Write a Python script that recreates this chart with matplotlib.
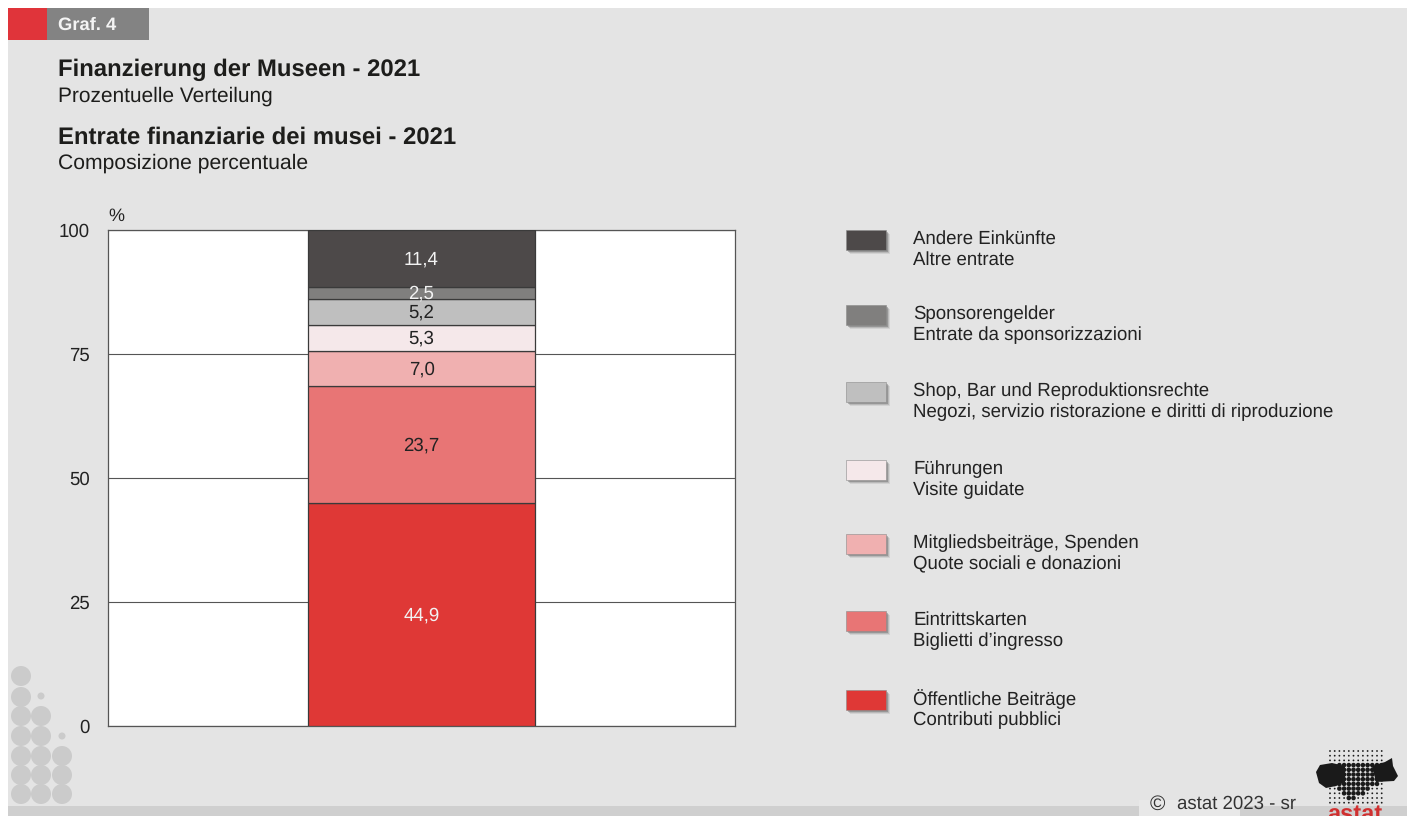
import matplotlib
matplotlib.use("Agg")
from matplotlib import pyplot as plt
from matplotlib.patches import Rectangle, Circle, Polygon

plt.rcParams['font.family'] = ['Liberation Sans', 'DejaVu Sans']
plt.rcParams['text.hinting'] = 'no_hinting'

segments_de = ["Öffentliche Beiträge", "Eintrittskarten", "Mitgliedsbeiträge, Spenden", "Führungen",
               "Shop, Bar und Reproduktionsrechte", "Sponsorengelder", "Andere Einkünfte"]
segments_it = ["Contributi pubblici", "Biglietti d’ingresso", "Quote sociali e donazioni", "Visite guidate",
               "Negozi, servizio ristorazione e diritti di riproduzione", "Entrate da sponsorizzazioni", "Altre entrate"]
values = [44.9, 23.7, 7.0, 5.3, 5.2, 2.5, 11.4]
value_labels = ["44,9", "23,7", "7,0", "5,3", "5,2", "2,5", "11,4"]
colors = ["#df3836", "#e87575", "#f0b0b0", "#f5e8ea", "#bfbfbf", "#807f7e", "#4d4949"]
label_colors = ["#f2f2f2", "#222222", "#222222", "#222222", "#222222", "#f2f2f2", "#f2f2f2"]
y_ticks = [0, 25, 50, 75, 100]

W, H = 1410, 816
fig = plt.figure(figsize=(W / 100, H / 100), dpi=100, facecolor="white")

# page decoration in pixel coordinates
bg = fig.add_axes([0, 0, 1, 1])
bg.set_xlim(0, W)
bg.set_ylim(H, 0)
bg.axis("off")
bg.add_patch(Rectangle((8, 8), 1399, 808, color="#e4e4e4", lw=0))
bg.add_patch(Rectangle((8, 806), 1399, 10, color="#cfcfcf", lw=0))
bg.add_patch(Rectangle((1139, 800), 101, 16, color="#e8e8e8", lw=0))
bg.add_patch(Rectangle((8, 8), 39, 32, color="#e0343a", lw=0))
bg.add_patch(Rectangle((47, 8), 102, 32, color="#838383", lw=0))

for cx, cy, r in [(21, 676, 10), (21, 697, 10), (21, 716, 10), (41, 716, 10), (21, 736, 10), (41, 736, 10),
                  (21, 756, 10), (41, 756, 10), (62, 756, 10), (21, 775, 10), (41, 775, 10), (62, 775, 10),
                  (21, 794, 10), (41, 794, 10), (62, 794, 10), (41, 696, 3.5), (62, 736, 3.5)]:
    bg.add_patch(Circle((cx, cy), r, color="#cbcbcb", lw=0))

bg.text(58, 25, "Graf. 4", fontsize=13.2, fontweight="bold", color="#f4f4f4", va="center")
bg.text(58, 70, "Finanzierung der Museen - 2021", fontsize=17.2, fontweight="bold", color="#1d1d1b", va="center")
bg.text(58, 96, "Prozentuelle Verteilung", fontsize=15, color="#1d1d1b", va="center")
bg.text(58, 138, "Entrate finanziarie dei musei - 2021", fontsize=17.2, fontweight="bold", color="#1d1d1b", va="center")
bg.text(58, 163, "Composizione percentuale", fontsize=15.2, color="#1d1d1b", va="center")
bg.text(108, 216, "%", fontsize=13, color="#222222", va="center")

# legend, swatches with a soft shadow
legend_y = [700, 621, 544, 470, 392, 315, 240]
for i in range(len(values)):
    y = legend_y[i]
    for off, a in [(3.5, 0.12), (2.5, 0.2), (1.5, 0.35)]:
        bg.add_patch(Rectangle((846 + off, y - 10 + off), 40, 20, color="#555555", alpha=a, lw=0))
    bg.add_patch(Rectangle((846, y - 10), 40, 20, facecolor=colors[i], edgecolor="#8a8a8a", lw=0.4))
    bg.text(913, y - 1, segments_de[i], fontsize=13.4, color="#222222", va="center")
    bg.text(913, y + 20, segments_it[i], fontsize=13.4, color="#222222", va="center")

# logo and copyright
bg.add_patch(Polygon([(1316, 772), (1320, 765), (1332, 763), (1345, 766), (1345, 782), (1336, 786), (1326, 788),
                      (1319, 783)], color="#1a1a1a", lw=0))
bg.add_patch(Polygon([(1372, 766), (1385, 762), (1392, 758), (1393, 766), (1398, 776), (1394, 781), (1376, 782)],
                     color="#1a1a1a", lw=0))
row_spans = [None, None, None, (1336, 1382), (1332, 1382), (1332, 1382), (1332, 1382), (1332, 1380), (1337, 1372),
             (1343, 1363), (1348, 1356), None]
for row in range(12):
    for col in range(12):
        x = 1330 + col * 4.7
        y = 751 + row * 4.7
        span = row_spans[row]
        big = span is not None and span[0] <= x <= span[1]
        bg.add_patch(Circle((x, y), 2.3 if big else 0.9, color="#1a1a1a", lw=0))
bg.text(1150, 804, "©", fontsize=15, color="#333333", va="center")
bg.text(1177, 804, "astat 2023 - sr", fontsize=13.4, color="#333333", va="center")
bg.text(1355, 815, "astat", fontsize=17, fontweight="bold", color="#d03030", va="center", ha="center", clip_on=True)

# chart
ax = fig.add_axes([108 / W, 1 - 726 / H, 627 / W, 496 / H])
bottom = 0
for i in range(len(values)):
    ax.bar(0, values[i], width=0.362, bottom=bottom, color=colors[i], edgecolor="#3a3a3a", linewidth=0.9, zorder=3)
    ax.text(0, bottom + values[i] / 2 - 0.2, value_labels[i], fontsize=13.4,
            color=label_colors[i], ha="center", va="center", zorder=4)
    bottom += values[i]

ax.set_xlim(-0.5, 0.5)
ax.set_ylim(0, 100)
ax.set_xticks([])
ax.set_yticks(y_ticks)
ax.tick_params(axis="y", length=0, labelsize=13.4, labelcolor="#222222", pad=13)
ax.grid(axis="y", color="#555555", linewidth=0.8, zorder=1)
for s in ax.spines.values():
    s.set_color("#555555")
    s.set_linewidth(0.9)

fig.savefig("out.png", dpi=100)
